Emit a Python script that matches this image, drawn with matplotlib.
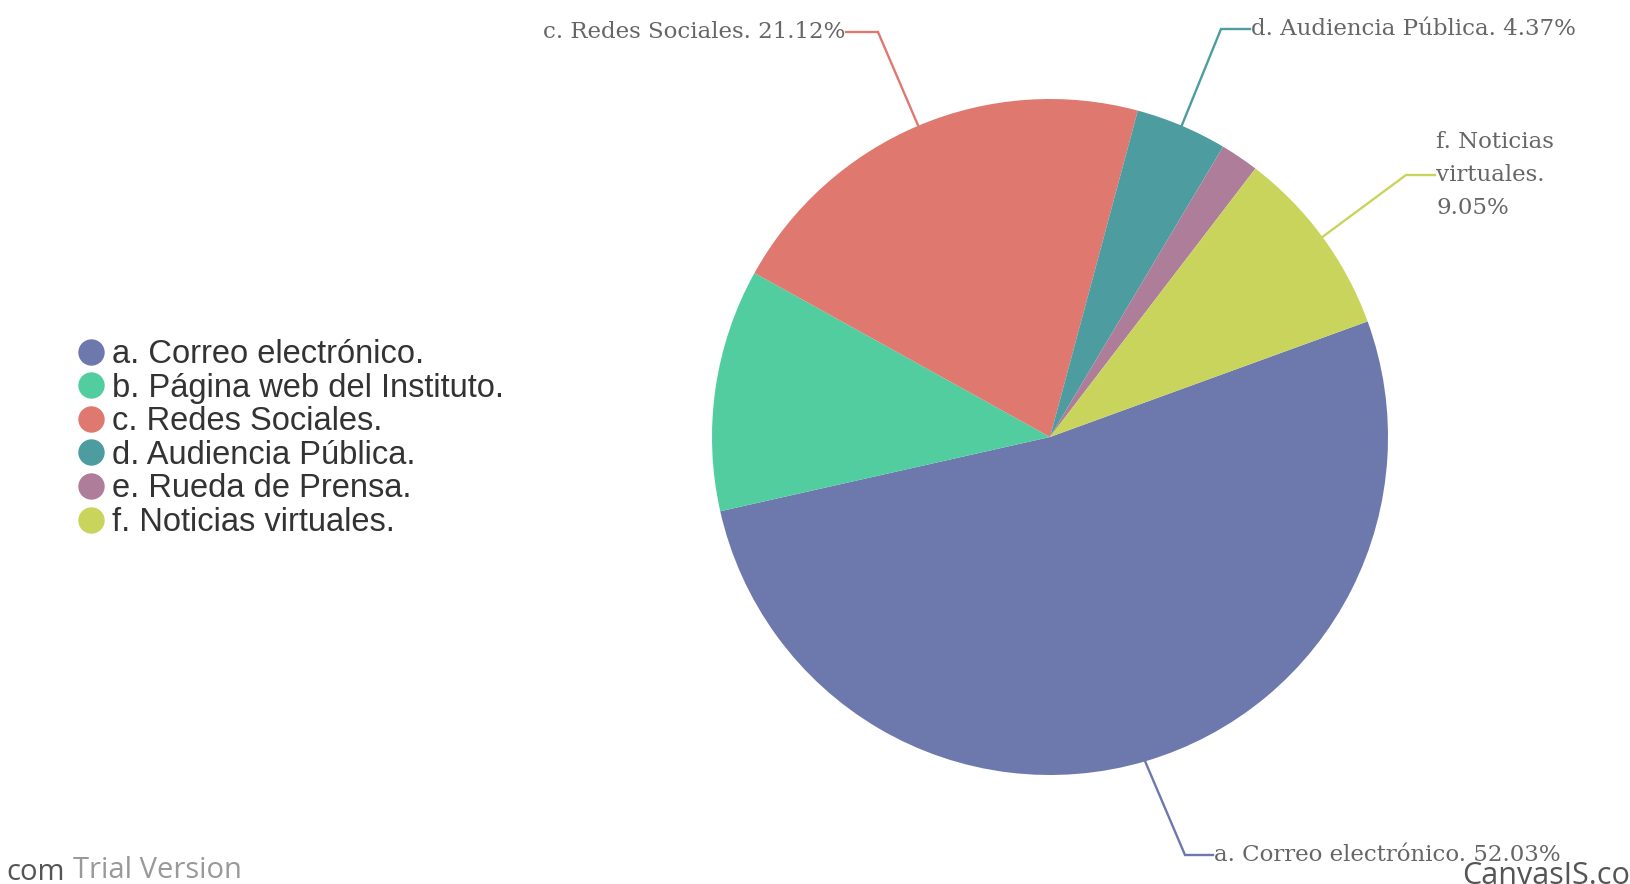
import matplotlib
matplotlib.use('Agg')
import matplotlib.pyplot as plt
from matplotlib.lines import Line2D
import numpy as np

categories = ['a. Correo electrónico.', 'b. Página web del Instituto.', 'c. Redes Sociales.',
              'd. Audiencia Pública.', 'e. Rueda de Prensa.', 'f. Noticias virtuales.']
shares = [52.03, 11.59, 21.12, 4.37, 1.84, 9.05]
colors = ['#6D78AD', '#51CDA0', '#DF7970', '#4C9CA0', '#AE7D99', '#C9D45C']

# index label text shown beside the pie (b and e have none)
shown = {
    0: 'a. Correo electrónico. 52.03%',
    2: 'c. Redes Sociales. 21.12%',
    3: 'd. Audiencia Pública. 4.37%',
    5: 'f. Noticias\nvirtuales.\n9.05%',
}
# leader layout in pixels from top: elbow, end of line, text alignment
leader = {
    0: ((1185, 855), (1213, 855), 'left'),
    2: ((878, 32), (846, 32), 'right'),
    3: ((1221, 29), (1250, 29), 'left'),
    5: ((1406, 175), (1435, 175), 'left'),
}

W, H = 1630, 884
fig = plt.figure(figsize=(W / 100, H / 100), dpi=100)
ax = fig.add_axes([0, 0, 1, 1])

cx, cy, r = 1050, H - 437, 338
wedges, _ = ax.pie(shares, colors=colors, startangle=20, counterclock=False,
                   center=(cx, cy), radius=r, frame=True,
                   wedgeprops=dict(linewidth=0))
ax.set_xlim(0, W)
ax.set_ylim(0, H)
ax.set_aspect('equal')
ax.axis('off')

for i, txt in shown.items():
    w = wedges[i]
    mid = np.deg2rad((w.theta1 + w.theta2) / 2)
    x0, y0 = cx + r * np.cos(mid), cy + r * np.sin(mid)
    (ex, ey), (tx, ty), ha = leader[i]
    ax.plot([x0, ex, tx], [y0, H - ey, H - ty], color=colors[i], lw=1.7,
            solid_joinstyle='miter')
    ax.text(tx + (1 if ha == 'left' else -1), H - ty, txt, ha=ha, va='center',
            family='DejaVu Serif', fontsize=16.5, color='#666666',
            linespacing=1.65)

handles = [Line2D([], [], marker='o', ls='', markersize=18, color=c) for c in colors]
fig.legend(handles, categories, loc='upper left', bbox_to_anchor=(76 / W, 1 - 339 / H),
           frameon=False, prop=dict(family='Liberation Sans', size=23.5),
           labelcolor='#333333', handletextpad=0.2, labelspacing=0.08,
           handlelength=0.9, borderpad=0, borderaxespad=0)

ax.text(73, H - 870, 'Trial Version', ha='left', va='center', family='Open Sans',
        fontsize=21, color='#999999')
ax.text(6, H - 873, 'com', ha='left', va='center', family='Open Sans',
        fontsize=21, color='#555555')
ax.text(1462, H - 876, 'CanvasJS.com', ha='left', va='center', family='Open Sans',
        fontsize=22, color='#555555', clip_on=False)

fig.savefig('out.png', dpi=100)
